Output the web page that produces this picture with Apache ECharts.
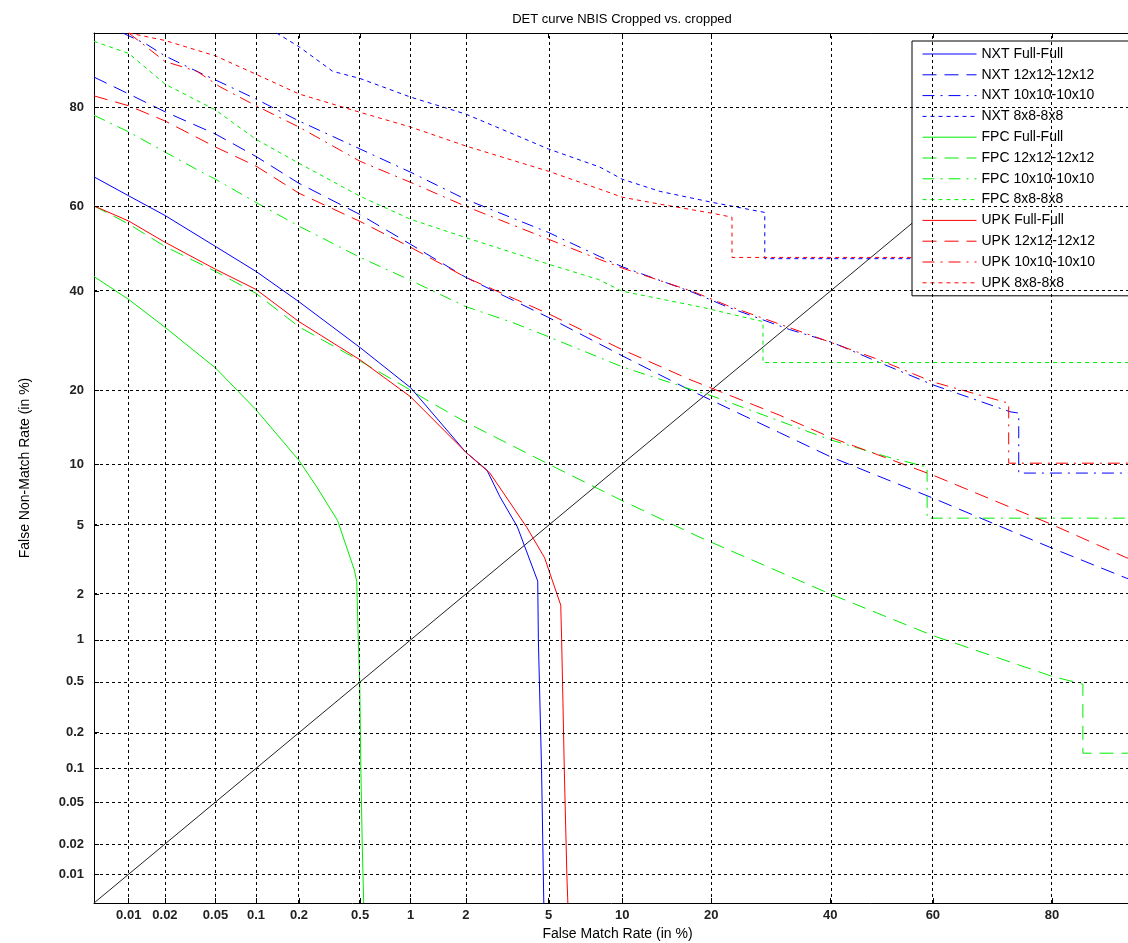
<!DOCTYPE html>
<html>
<head>
<meta charset="utf-8">
<script src="https://cdn.jsdelivr.net/npm/echarts@6/dist/echarts.min.js"></script>
<style>
  html, body { margin: 0; padding: 0; background: #fff; }
  #chart { width: 1128px; height: 943px; }
</style>
</head>
<body>
<div id="chart"></div>
<script>
// tick labels, in %
var tickValues = [0.01, 0.02, 0.05, 0.1, 0.2, 0.5, 1, 2, 5, 10, 20, 40, 60, 80];
var axisMin = 0.005, axisMax = 90;

// curves: [False Match Rate %, False Non-Match Rate %]
var nxtFull = [[0.005,66.5],[0.01,62.3],[0.02,57.8],[0.05,50.5],[0.1,44.6],[0.2,37.6],[0.5,27.8],[1,20.4],[2,11.3],[2.56,9.4],[2.97,7.0],[3.6,4.9],[4.47,2.4],[4.5,1.0],[4.65,0.1],[4.76,0.005]];
var nxt12 = [[0.005,84.6],[0.01,82.1],[0.02,79.2],[0.05,75.2],[0.1,70.8],[0.2,65.1],[0.5,58],[1,51],[2,43.2],[5,34.1],[10,26.2],[17.2,20],[30.7,13.7],[40,10.8],[60,6.9],[79.7,3.79],[88.7,2.5],[90,2.4]];
var nxt10 = [[0.0089,90],[0.014,88.8],[0.02,87.4],[0.04,85],[0.054,83.9],[0.1,81.3],[0.2,77.6],[0.5,72.3],[1,67.5],[2,61.5],[5,53.8],[8.2,48.1],[10,45.7],[17.6,39.7],[22.2,36.5],[32.5,31.5],[40.5,28.8],[49.6,24.9],[60,20.9],[73.7,16.6],[75.1,16.4],[75.1,9.1],[90,9.1]];
var nxt8 = [[0.14,90],[0.2,88.5],[0.335,85.4],[0.5,84.4],[1,81.6],[2,78.8],[5,72.3],[8.2,68.6],[10,66],[13.7,63.3],[20.2,60.8],[28.2,58.5],[28.2,47.6],[90,47.6]];
var fpcFull = [[0.005,43.4],[0.01,38.1],[0.02,32],[0.05,23.9],[0.1,16.9],[0.2,10.4],[0.264,7.8],[0.36,5.3],[0.46,2.8],[0.476,2.4],[0.487,1],[0.497,0.5],[0.505,0.1],[0.515,0.02],[0.526,0.005]];
var fpc12 = [[0.005,60],[0.01,55.8],[0.02,50.5],[0.05,44.6],[0.1,39.5],[0.2,32.1],[0.5,25.2],[1,20],[1.23,18.4],[2,15.1],[5,10],[10,6.7],[18.5,4.3],[40,2],[60,1.07],[80,0.55],[84,0.48],[84,0.135],[90,0.135]];
var fpc10 = [[0.005,78.6],[0.01,75.6],[0.02,71.7],[0.038,67.7],[0.05,66],[0.1,60.8],[0.2,55.3],[0.5,47.9],[1,42.5],[2,36.5],[3.42,33],[5,30],[10,24.1],[17.6,20],[20,19.1],[39.9,12.8],[51,10.8],[58.9,9.7],[58.9,5.45],[90,5.45]];
var fpc8 = [[0.005,89.1],[0.01,87.7],[0.02,83.6],[0.05,79.5],[0.1,74.2],[0.2,69.4],[0.5,62.2],[1,56.9],[2,52.6],[5,46.3],[8.1,42.7],[10,40],[18.9,36.3],[27.9,33.2],[27.9,24.9],[90,24.9]];
var upkFull = [[0.005,60],[0.01,56.5],[0.02,51.5],[0.05,45.1],[0.1,40.4],[0.2,33.2],[0.5,25.4],[1,18.9],[2,11.3],[2.65,9.1],[3.98,4.88],[4.8,3.3],[5.65,1.7],[5.7,1],[5.75,0.5],[5.85,0.1],[6.0,0.01],[6.06,0.005]];
var upk12 = [[0.005,81.8],[0.01,80.2],[0.02,77.6],[0.05,72.7],[0.1,68.8],[0.2,62.9],[0.5,56.4],[1,50.3],[2,43.2],[5,34.9],[10,27.4],[17.2,21.8],[30.7,16.1],[40,13.1],[60,8.9],[79.7,5.1],[88.7,3.3],[90,3.2]];
var upk10 = [[0.01,90],[0.02,86.7],[0.036,85.4],[0.054,83.2],[0.1,80.2],[0.2,76.5],[0.5,69.8],[1,65.3],[2,59.9],[5,52.2],[8.2,47.4],[10,45.4],[17.6,39.9],[22.2,36.8],[32.5,31.9],[49.6,25.4],[60,21.4],[73.5,17.9],[73.5,10.1],[90,10.1]];
var upk8 = [[0.01,90],[0.02,89.2],[0.05,87.4],[0.1,85],[0.2,82.1],[0.5,79.1],[1,76.5],[2,72.9],[5,67.7],[8.2,63.8],[10,62],[13.7,60.4],[20.2,58.3],[23,57.4],[23,47.9],[90,47.9]];
var diagonal = [[0.005,0.005],[90,90]];

// normal deviate scale (DET axes)
function probit(p) {
  var a = [-3.969683028665376e+01, 2.209460984245205e+02, -2.759285104469687e+02, 1.383577518672690e+02, -3.066479806614716e+01, 2.506628277459239e+00];
  var b = [-5.447609879822406e+01, 1.615858368580409e+02, -1.556989798598866e+02, 6.680131188771972e+01, -1.328068155288572e+01];
  var c = [-7.784894002430293e-03, -3.223964580411365e-01, -2.400758277161838e+00, -2.549732539343734e+00, 4.374664141464968e+00, 2.938163982698783e+00];
  var d = [7.784695709041462e-03, 3.224671290700398e-01, 2.445134137142996e+00, 3.754408661907416e+00];
  var pl = 0.02425, q, r;
  if (p < pl) {
    q = Math.sqrt(-2 * Math.log(p));
    return (((((c[0]*q+c[1])*q+c[2])*q+c[3])*q+c[4])*q+c[5]) / ((((d[0]*q+d[1])*q+d[2])*q+d[3])*q+1);
  }
  if (p <= 1 - pl) {
    q = p - 0.5; r = q * q;
    return (((((a[0]*r+a[1])*r+a[2])*r+a[3])*r+a[4])*r+a[5])*q / (((((b[0]*r+b[1])*r+b[2])*r+b[3])*r+b[4])*r+1);
  }
  q = Math.sqrt(-2 * Math.log(1 - p));
  return -(((((c[0]*q+c[1])*q+c[2])*q+c[3])*q+c[4])*q+c[5]) / ((((d[0]*q+d[1])*q+d[2])*q+d[3])*q+1);
}
function dev(pct) { return probit(pct / 100); }
function toDev(arr) { return arr.map(function (p) { return [dev(p[0]), dev(p[1])]; }); }

var tickDev = tickValues.map(dev);
function tickLabel(v) {
  for (var i = 0; i < tickValues.length; i++) {
    if (Math.abs(tickDev[i] - v) < 1e-6) return String(tickValues[i]);
  }
  return '';
}

var BLUE = '#0000ff', GREEN = '#00ee00', RED = '#ff0000';
var SOLID = 'solid', DASH = [14, 8], DASHDOT = [12, 6, 2, 6], DOT = [4, 4];

var curves = [
  { name: 'NXT Full-Full', data: nxtFull, color: BLUE, type: SOLID },
  { name: 'NXT 12x12-12x12', data: nxt12, color: BLUE, type: DASH },
  { name: 'NXT 10x10-10x10', data: nxt10, color: BLUE, type: DASHDOT },
  { name: 'NXT 8x8-8x8', data: nxt8, color: BLUE, type: DOT },
  { name: 'FPC Full-Full', data: fpcFull, color: GREEN, type: SOLID },
  { name: 'FPC 12x12-12x12', data: fpc12, color: GREEN, type: DASH },
  { name: 'FPC 10x10-10x10', data: fpc10, color: GREEN, type: DASHDOT },
  { name: 'FPC 8x8-8x8', data: fpc8, color: GREEN, type: DOT },
  { name: 'UPK Full-Full', data: upkFull, color: RED, type: SOLID },
  { name: 'UPK 12x12-12x12', data: upk12, color: RED, type: DASH },
  { name: 'UPK 10x10-10x10', data: upk10, color: RED, type: DASHDOT },
  { name: 'UPK 8x8-8x8', data: upk8, color: RED, type: DOT }
];

var FONT = 'Liberation Sans, Arial, sans-serif';
var gridDash = { color: '#000', width: 1, type: [3, 3] };

var gridLines = [];
tickValues.forEach(function (t) {
  gridLines.push({ xAxis: dev(t) });
  gridLines.push({ yAxis: dev(t) });
});

var series = [{
  type: 'line',
  data: toDev(diagonal),
  symbol: 'none',
  silent: true,
  z: 1,
  lineStyle: { color: '#222', width: 1 },
  markLine: {
    silent: true,
    symbol: 'none',
    label: { show: false },
    lineStyle: gridDash,
    emphasis: { disabled: true },
    data: gridLines
  }
}];
curves.forEach(function (c) {
  series.push({
    name: c.name,
    type: 'line',
    data: toDev(c.data),
    symbol: 'none',
    z: 3,
    lineStyle: { color: c.color, width: 1, type: c.type },
    itemStyle: { color: c.color }
  });
});

var xBase = {
  type: 'value',
  min: dev(axisMin),
  max: dev(axisMax),
  splitLine: { show: false },
  axisLine: { show: true, onZero: false, lineStyle: { color: '#000', width: 1 } },
  axisTick: { show: true, inside: true, length: 5, customValues: tickDev, lineStyle: { color: '#000' } }
};

var chart = echarts.init(document.getElementById('chart'));
chart.setOption({
  animation: false,
  backgroundColor: '#fff',
  title: {
    text: 'DET curve NBIS Cropped vs. cropped',
    left: 617,
    textAlign: 'center',
    top: 8,
    textStyle: { fontFamily: FONT, fontSize: 13, fontWeight: 'normal', color: '#000' }
  },
  grid: { left: 94, right: -13, top: 33, bottom: 40, outerBoundsMode: 'none' },
  legend: {
    orient: 'vertical',
    left: 912,
    top: 41,
    data: curves.map(function (c) { return c.name; }),
    itemWidth: 54,
    itemHeight: 14,
    itemGap: 6.8,
    padding: [6, 40, 6, 10],
    backgroundColor: '#fff',
    borderColor: '#000',
    borderWidth: 1,
    borderRadius: 0,
    selectedMode: false,
    itemStyle: { opacity: 0 },
    lineStyle: { width: 1 },
    textStyle: { fontFamily: FONT, fontSize: 14, lineHeight: 14, color: '#000' }
  },
  xAxis: [
    Object.assign({}, xBase, {
      position: 'bottom',
      name: 'False Match Rate (in %)',
      nameLocation: 'middle',
      nameGap: 22,
      nameTextStyle: { fontFamily: FONT, fontSize: 14, color: '#000' },
      axisLabel: {
        show: true, customValues: tickDev, formatter: tickLabel, margin: 6,
        fontFamily: FONT, fontSize: 13, fontWeight: 'bold', color: '#222'
      }
    }),
    Object.assign({}, xBase, {
      position: 'top',
      axisLabel: { show: false }
    })
  ],
  yAxis: {
    type: 'value',
    min: dev(axisMin),
    max: dev(axisMax),
    name: 'False Non-Match Rate (in %)',
    nameLocation: 'middle',
    nameGap: 62,
    nameTextStyle: { fontFamily: FONT, fontSize: 14, color: '#000' },
    splitLine: { show: false },
    axisLine: { show: true, onZero: false, lineStyle: { color: '#000', width: 1 } },
    axisTick: { show: true, inside: true, length: 5, customValues: tickDev, lineStyle: { color: '#000' } },
    axisLabel: {
      show: true, customValues: tickDev, formatter: tickLabel, margin: 10,
      fontFamily: FONT, fontSize: 13, fontWeight: 'bold', color: '#222'
    }
  },
  series: series
});
</script>
</body>
</html>
